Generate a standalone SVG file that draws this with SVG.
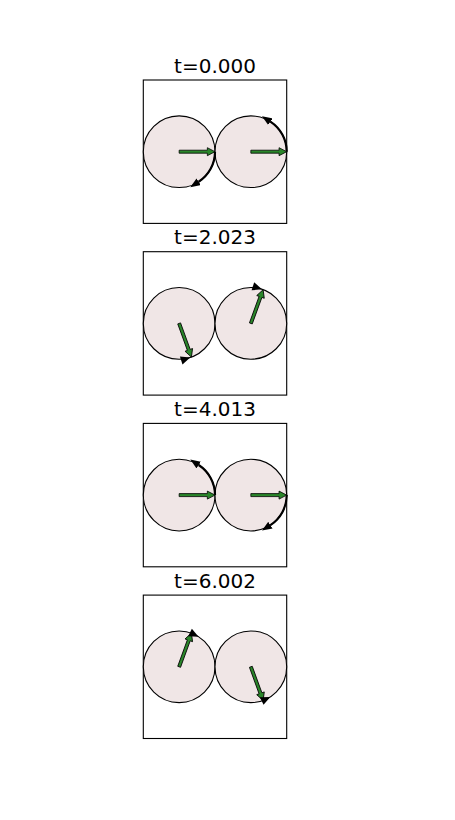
<svg xmlns="http://www.w3.org/2000/svg" xmlns:xlink="http://www.w3.org/1999/xlink" width="455" height="820" viewBox="0 0 455 820">
  <style>
    .title { font-family: "DejaVu Sans", "Liberation Sans", sans-serif; font-size: 20px; fill: #000; text-anchor: middle; }
    .frame { fill: none; stroke: #000; stroke-width: 1.1; }
    .disk { fill: #f0e6e6; stroke: #000; stroke-width: 1.1; }
    .vec { fill: #2a862a; stroke: #000; stroke-width: 0.8; stroke-linejoin: miter; }
    .spin { fill: none; stroke: #000; stroke-width: 2.2; marker-end: url(#ah); }
    .head { fill: #000; stroke: none; }
  </style>
  <defs>
    <marker id="ah" markerUnits="userSpaceOnUse" markerWidth="10" markerHeight="8" viewBox="0 0 10 8" refX="0" refY="4" orient="auto">
      <path d="M0,0 L10,4 L0,8 z" fill="#000"/>
    </marker>
    <polygon id="ga" points="0,-1.5 28.2,-1.5 28.2,-4 35.85,0 28.2,4 28.2,1.5 0,1.5"/>
    <path id="hd" d="M-9.5,-4.2 L0,0 L-9.5,4.2 z"/>
  </defs>
  <rect width="455" height="820" fill="#fff"/>

  <g id="panel-t0">
    <text class="title" x="215" y="72.5">t=0.000</text>
    <rect class="frame" x="143.3" y="80" width="143.4" height="143.4"/>
    <circle class="disk" cx="179.15" cy="151.7" r="35.85"/>
    <circle class="disk" cx="250.85" cy="151.7" r="35.85"/>
    <path class="spin" d="M215,151.7 A35.85,35.85 0 0 1 198.68,181.77"/>
    <path class="spin" d="M286.7,151.7 A35.85,35.85 0 0 0 270.38,121.63"/>
    <use href="#ga" class="vec" transform="translate(179.15,151.7)"/>
    <use href="#ga" class="vec" transform="translate(250.85,151.7)"/>
  </g>

  <g id="panel-t2">
    <text class="title" x="215" y="244.2">t=2.023</text>
    <rect class="frame" x="143.3" y="251.7" width="143.4" height="143.4"/>
    <circle class="disk" cx="179.15" cy="323.4" r="35.85"/>
    <circle class="disk" cx="250.85" cy="323.4" r="35.85"/>
    <use href="#ga" class="vec" transform="translate(179.15,323.4) rotate(70)"/>
    <use href="#ga" class="vec" transform="translate(250.85,323.4) rotate(-70)"/>
    <use href="#hd" class="head" transform="translate(190.23,357.5) rotate(-18)"/>
    <use href="#hd" class="head" transform="translate(261.93,289.3) rotate(18)"/>
  </g>

  <g id="panel-t4">
    <text class="title" x="215" y="415.9">t=4.013</text>
    <rect class="frame" x="143.3" y="423.4" width="143.4" height="143.4"/>
    <circle class="disk" cx="179.15" cy="495.1" r="35.85"/>
    <circle class="disk" cx="250.85" cy="495.1" r="35.85"/>
    <path class="spin" d="M215,495.1 A35.85,35.85 0 0 0 198.68,465.03"/>
    <path class="spin" d="M286.7,495.1 A35.85,35.85 0 0 1 270.38,525.17"/>
    <use href="#ga" class="vec" transform="translate(179.15,495.1)"/>
    <use href="#ga" class="vec" transform="translate(250.85,495.1)"/>
  </g>

  <g id="panel-t6">
    <text class="title" x="215" y="587.6">t=6.002</text>
    <rect class="frame" x="143.3" y="595.1" width="143.4" height="143.4"/>
    <circle class="disk" cx="179.15" cy="666.8" r="35.85"/>
    <circle class="disk" cx="250.85" cy="666.8" r="35.85"/>
    <use href="#ga" class="vec" transform="translate(179.15,666.8) rotate(-70)"/>
    <use href="#ga" class="vec" transform="translate(250.85,666.8) rotate(70)"/>
    <use href="#hd" class="head" transform="translate(198.57,636.67) rotate(26)"/>
    <use href="#hd" class="head" transform="translate(270.27,696.93) rotate(-26)"/>
  </g>
</svg>
